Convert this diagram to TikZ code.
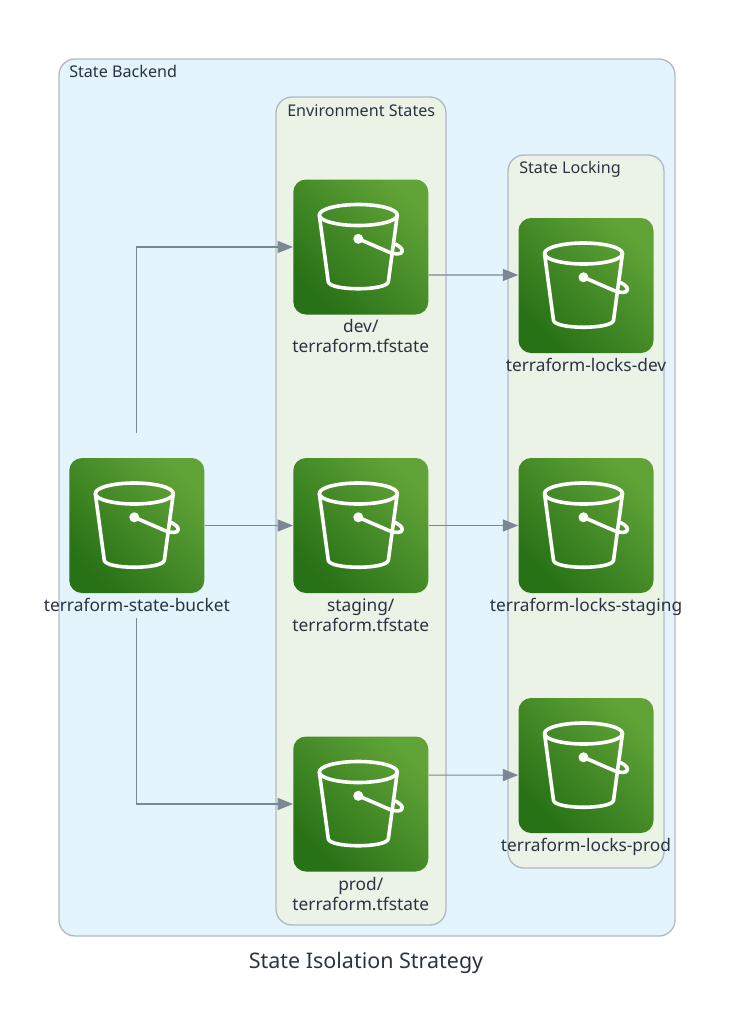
\documentclass[tikz,border=0pt]{standalone}
\usepackage{fontspec}
\setmainfont{Noto Sans}
\usetikzlibrary{arrows.meta, positioning}
\definecolor{BackendBg}{HTML}{E3F4FD}
\definecolor{GroupBg}{HTML}{EBF3E7}
\definecolor{GroupLine}{HTML}{B0BAC5}
\definecolor{ArrowGrey}{HTML}{7B8794}
\definecolor{InkDark}{HTML}{2A3440}
\definecolor{IconDark}{HTML}{277116}
\definecolor{IconLight}{HTML}{60A337}

\begin{document}
\begin{tikzpicture}[
  x=0.75pt, y=-0.75pt,
  group/.style={draw=GroupLine, line width=1pt, rounded corners=12pt},
  grouplabel/.style={anchor=base west, inner sep=0pt, font=\fontsize{12.1}{14}\selectfont\color{InkDark}},
  iconbox/.style={rectangle, rounded corners=9.5pt, minimum size=101.25pt, inner sep=0pt,
    bottom color=IconDark, top color=IconLight, shading angle=-45,
    path picture={
      \begin{scope}[shift={(path picture bounding box.center)}, sharp corners, line width=2.7pt, line join=round, line cap=round]
        \draw[white] (-2.5,-32) ellipse [x radius=39, y radius=10.5];
        \draw[white] (-41.5,-32) -- (-32.5,35) .. controls (-30,44) and (25,44) .. (27.5,35) -- (36.5,-32);
        \fill[white] (-2.5,-8.2) circle [radius=5];
        \draw[white] (-2.5,-8.2) -- (28,5) .. controls (33,7.5) and (41.5,8) .. (41.5,4)
          .. controls (41.5,1) and (38,-1) .. (34.5,-3);
      \end{scope}
    }},
  iconlabel/.style={anchor=base, align=center, inner sep=0pt, font=\fontsize{13}{14.8}\selectfont\color{InkDark}},
  arr/.style={-{Triangle[length=11.5pt, width=9pt]}, ArrowGrey, line width=0.85pt}
]
\useasboundingbox (0,0) rectangle (733,1029);

% Clusters
\draw[group, fill=BackendBg] (59,59) rectangle (675,936);
\node[grouplabel] (backendlabel) at (69,77) {State Backend};
\draw[group, fill=GroupBg] (276,97) rectangle (446,925);
\node[grouplabel] (envlabel) at (287,116) {Environment States};
\draw[group, fill=GroupBg] (508,155) rectangle (664,868);
\node[grouplabel] (locklabel) at (519,173) {State Locking};

% Source bucket
\node[iconbox] (state) at (136.8,525.5) {};
\node[iconlabel] (statelabel) at (136.8,611) {terraform-state-bucket};

% Environment states
\node[iconbox] (dev) at (360.8,247) {};
\node[iconlabel] (devlabel) at (360.8,352.5) {dev/\\terraform.tfstate};
\node[iconbox] (staging) at (360.8,525.5) {};
\node[iconlabel] (staginglabel) at (360.8,631) {staging/\\terraform.tfstate};
\node[iconbox] (prod) at (360.8,804) {};
\node[iconlabel] (prodlabel) at (360.8,910) {prod/\\terraform.tfstate};

% Locks
\node[iconbox] (lockdev) at (586,285.5) {};
\node[iconlabel] (lockdevlabel) at (586,371) {terraform-locks-dev};
\node[iconbox] (lockstaging) at (586,525.5) {};
\node[iconlabel] (lockstaginglabel) at (586,611) {terraform-locks-staging};
\node[iconbox] (lockprod) at (586,765.5) {};
\node[iconlabel] (lockprodlabel) at (586,851) {terraform-locks-prod};

% Connectors
\draw[arr, shorten <=18.75pt] (state.north) |- (dev.west);
\draw[arr] (state) -- (staging);
\draw[arr, shorten <=18.75pt] (state.south) |- (prod.west);
\draw[arr] ([yshift=-21pt]dev.east) -- ([yshift=7.9pt]lockdev.west);
\draw[arr] (staging) -- (lockstaging);
\draw[arr] ([yshift=21.7pt]prod.east) -- ([yshift=-7.2pt]lockprod.west);

% Title
\node[font=\fontsize{16.1}{18}\selectfont\color{InkDark}, inner sep=0pt] (title) at (366,963) {State Isolation Strategy};
\end{tikzpicture}
\end{document}
